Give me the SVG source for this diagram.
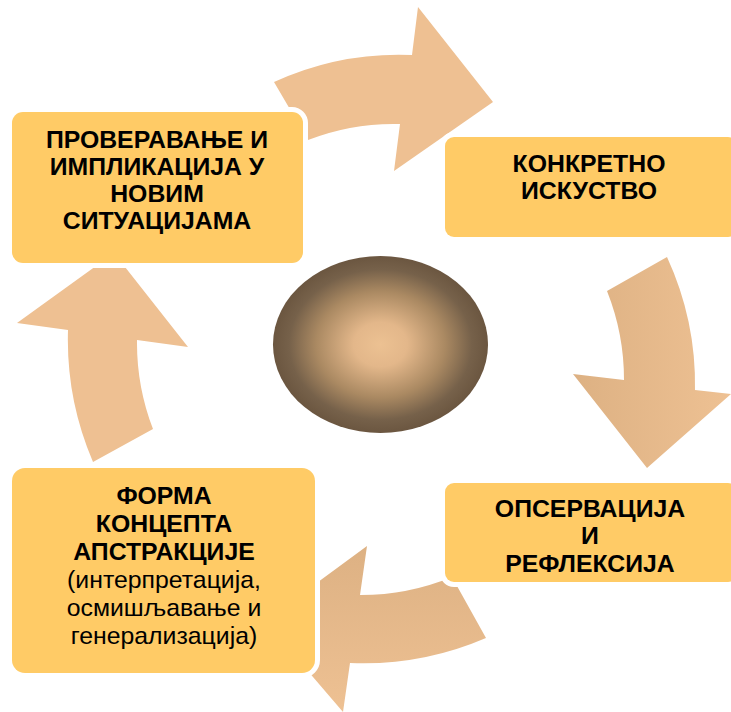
<svg xmlns="http://www.w3.org/2000/svg" width="731" height="712" viewBox="0 0 731 712">
  <style>
    .box { fill: #FFCB66; stroke: #FFFFFF; stroke-width: 10; paint-order: stroke; }
    .arrow { fill: #EEC092; }
    .t { font-family: "Liberation Sans", Arial, sans-serif; font-size: 24.8px; fill: #000000; text-anchor: middle; }
    .b { font-weight: bold; }
  </style>
  <defs>
    <linearGradient id="gRight" x1="0" y1="0" x2="1" y2="0">
      <stop offset="0" stop-color="#DDB183"/>
      <stop offset="1" stop-color="#EEC193"/>
    </linearGradient>
    <linearGradient id="gBottom" x1="0" y1="0" x2="0" y2="1">
      <stop offset="0" stop-color="#DDB183"/>
      <stop offset="1" stop-color="#EEC193"/>
    </linearGradient>
    <radialGradient id="gCenter" cx="0.5" cy="0.5" r="0.5">
      <stop offset="0" stop-color="#ECC192"/>
      <stop offset="0.25" stop-color="#E3B78A"/>
      <stop offset="0.6" stop-color="#AA8962"/>
      <stop offset="0.85" stop-color="#76614A"/>
      <stop offset="1" stop-color="#6B5640"/>
    </radialGradient>
  </defs>

  <g id="connectors">
    <path class="arrow" d="M 274 82 A 300 300 0 0 1 412 55 L 418 7 L 493 102 L 394 171 L 400 124 A 235 235 0 0 0 308 140 Z"/>
    <path class="arrow" style="fill:url(#gRight)" d="M 607 291 L 667 257 A 305 305 0 0 1 695 390 L 731 394 L 647 468 L 573 374 L 624 380 A 240 240 0 0 0 607 291 Z"/>
    <path class="arrow" style="fill:url(#gBottom)" d="M 452 577 L 486 638 A 310 310 0 0 1 350 663 L 343 712 L 265 621 L 367 546 L 360 595 A 240 240 0 0 0 452 577 Z"/>
    <path class="arrow" d="M 93 462 A 310 310 0 0 1 68 330 L 17 323 L 114 253 L 188 347 L 137 340 A 240 240 0 0 0 153 429 Z"/>
  </g>

  <g id="center">
    <ellipse cx="380.5" cy="344.5" rx="107.5" ry="88.5" fill="url(#gCenter)"/>
  </g>

  <g id="node-proveravanje">
    <rect class="box" x="12" y="112" width="291" height="151" rx="11"/>
    <text class="t b" x="157" y="148">ПРОВЕРАВАЊЕ И</text>
    <text class="t b" x="157" y="175">ИМПЛИКАЦИЈА У</text>
    <text class="t b" x="157" y="202">НОВИМ</text>
    <text class="t b" x="157" y="229">СИТУАЦИЈАМА</text>
  </g>

  <g id="node-konkretno">
    <rect class="box" x="445" y="137" width="292" height="100" rx="9"/>
    <text class="t b" x="589" y="172">КОНКРЕТНО</text>
    <text class="t b" x="589" y="199">ИСКУСТВО</text>
  </g>

  <g id="node-opservacija">
    <rect class="box" x="445" y="483" width="292" height="99" rx="9"/>
    <text class="t b" x="590" y="517">ОПСЕРВАЦИЈА</text>
    <text class="t b" x="590" y="544">И</text>
    <text class="t b" x="590" y="572">РЕФЛЕКСИЈА</text>
  </g>

  <g id="node-forma">
    <rect class="box" x="12" y="468" width="303" height="205" rx="13"/>
    <text class="t b" x="164" y="504">ФОРМА</text>
    <text class="t b" x="164" y="532">КОНЦЕПТА</text>
    <text class="t b" x="164" y="560">АПСТРАКЦИЈЕ</text>
    <text class="t" x="164" y="588">(интерпретација,</text>
    <text class="t" x="164" y="616">осмишљавање и</text>
    <text class="t" x="164" y="644">генерализација)</text>
  </g>
</svg>
